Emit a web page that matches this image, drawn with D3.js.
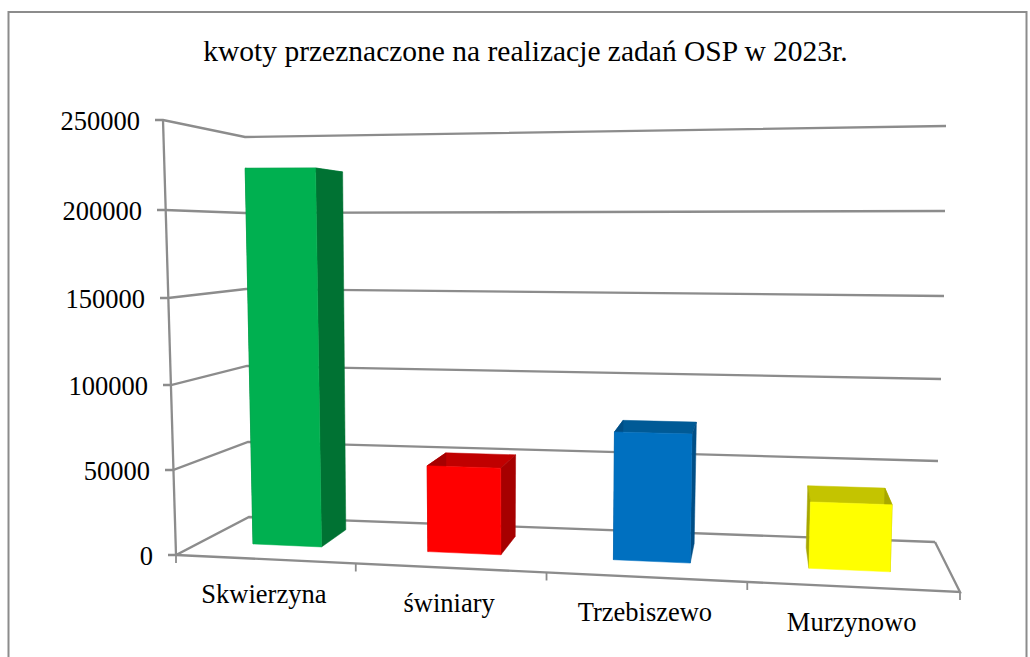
<!DOCTYPE html>
<html><head><meta charset="utf-8">
<script src="https://cdn.jsdelivr.net/npm/d3@7/dist/d3.min.js"></script>
<style>html,body{margin:0;padding:0;background:#fff;overflow:hidden}svg{display:block}text{font-family:"Liberation Serif","Times New Roman",serif;fill:#000}</style>
</head><body><svg id="c" width="1030" height="657"></svg>
<script>
const title = "kwoty przeznaczone na realizacje zadań OSP w 2023r.";
const categories = ["Skwierzyna", "świniary", "Trzebiszewo", "Murzynowo"];
const amounts = [225000, 51000, 74000, 37500];
const valueTicks = [0, 50000, 100000, 150000, 200000, 250000];
const frontFaceColors = ["#00B050", "#FF0000", "#0070C0", "#FFFF00"];
const sideFaceColors = ["#007233", "#A60000", "#004E86", "#A8A800"];
const topFaceColors = ["#00843C", "#C00000", "#005A96", "#C4C400"];

// Perspective box: how each corner edge of the chart's box maps value to the page
const edge = (xs, ys) => ({x: d3.scaleLinear(valueTicks, xs), y: d3.scaleLinear(valueTicks, ys)});
const frontLeft = edge([176,173,171,168,165,163], [555,470,385,298,210,120]);
const backLeft = edge([249,248,247,246,245,245], [517,442,366,289,213,137]);
const backRight = edge([935,938,941,944,945,946], [542,461,379,296,211,126]);
const frontRight = edge([960,963,966,968,970,972], [592,497,402,306,211,116]);
const catFront = d3.scaleLinear([0,1,2,3,4], [175,355,546,747,960]);
const catBack = d3.scaleLinear([0,1,2,3,4], [249,405,573,749,935]);

function project(c, v, w) {
  const tf = (catFront(c) - 175) / 785, tb = (catBack(c) - 249) / 686;
  const fx = d3.interpolateNumber(frontLeft.x(v), frontRight.x(v))(tf);
  const fy = d3.interpolateNumber(frontLeft.y(v), frontRight.y(v))(tf);
  const bx = d3.interpolateNumber(backLeft.x(v), backRight.x(v))(tb);
  const by = d3.interpolateNumber(backLeft.y(v), backRight.y(v))(tb);
  return [fx + (bx - fx) * w, fy + (by - fy) * w];
}

const svg = d3.select("#c");
const line = d3.line();
const gray = "#8c8c8c";
const stroke = (sel, w) => sel.attr("fill", "none").attr("stroke", gray).attr("stroke-width", w).attr("stroke-linejoin", "miter");

stroke(svg.append("rect").attr("x", 8.5).attr("y", 12).attr("width", 1018).attr("height", 660), 2);

svg.append("text").attr("x", 525.5).attr("y", 61).attr("text-anchor", "middle")
  .attr("font-size", 29.5).text(title);

// Gridlines, floor, axes
const gridG = svg.append("g");
gridG.selectAll("path.grid").data(valueTicks).join("path").attr("class", "grid")
  .call(stroke, 2.3)
  .attr("d", v => line([[frontLeft.x(v) - 8, frontLeft.y(v)], [frontLeft.x(v), frontLeft.y(v)], [backLeft.x(v), backLeft.y(v)], [backRight.x(v), backRight.y(v)]]));
gridG.append("path").call(stroke, 2.3).attr("d", line([[frontLeft.x(0), frontLeft.y(0)], [frontLeft.x(250000), frontLeft.y(250000)]]));
gridG.append("path").call(stroke, 2.3).attr("d", line([[backRight.x(0), backRight.y(0)], [frontRight.x(0), frontRight.y(0)], [frontLeft.x(0), frontLeft.y(0)]]));
gridG.selectAll("path.tick").data(d3.range(categories.length + 1)).join("path").attr("class", "tick")
  .call(stroke, 1.8)
  .attr("d", i => { const p = project(i, 0, 0); return line([p, [p[0], p[1] + 8]]); });

svg.selectAll("text.val").data(valueTicks).join("text").attr("class", "val")
  .attr("x", v => frontLeft.x(v) - 23).attr("y", v => frontLeft.y(v) + 10)
  .attr("text-anchor", "end").attr("font-size", 26.5).text(v => v);

// Bars
const u0 = 0.3, u1 = 0.7, w0 = 0.35, w1 = 0.78;
const bars = svg.selectAll("g.bar").data(amounts).join("g").attr("class", "bar");
const face = (sel, color, pts) => sel.append("path").attr("fill", (d, i) => color[i]).attr("stroke", (d, i) => color[i]).attr("stroke-width", 0.5)
  .attr("d", (d, i) => line(pts(d, i)) + "Z");
face(bars, topFaceColors, (d, i) => [project(i+u0,d,w0), project(i+u1,d,w0), project(i+u1,d,w1), project(i+u0,d,w1)]);
face(bars, sideFaceColors, (d, i) => [project(i+u0,0,w0), project(i+u0,d,w0), project(i+u0,d,w1), project(i+u0,0,w1)]);
face(bars, sideFaceColors, (d, i) => [project(i+u1,0,w0), project(i+u1,d,w0), project(i+u1,d,w1), project(i+u1,0,w1)]);
face(bars, frontFaceColors, (d, i) => [project(i+u0,0,w0), project(i+u0,d,w0), project(i+u1,d,w0), project(i+u1,0,w0)]);

svg.selectAll("text.cat").data(categories).join("text").attr("class", "cat")
  .attr("x", (d, i) => project(i + 0.5, 0, 0)[0] - 2).attr("y", (d, i) => project(i + 0.5, 0, 0)[1] + 44)
  .attr("text-anchor", "middle").attr("font-size", 26.5).text(d => d);
</script></body></html>
